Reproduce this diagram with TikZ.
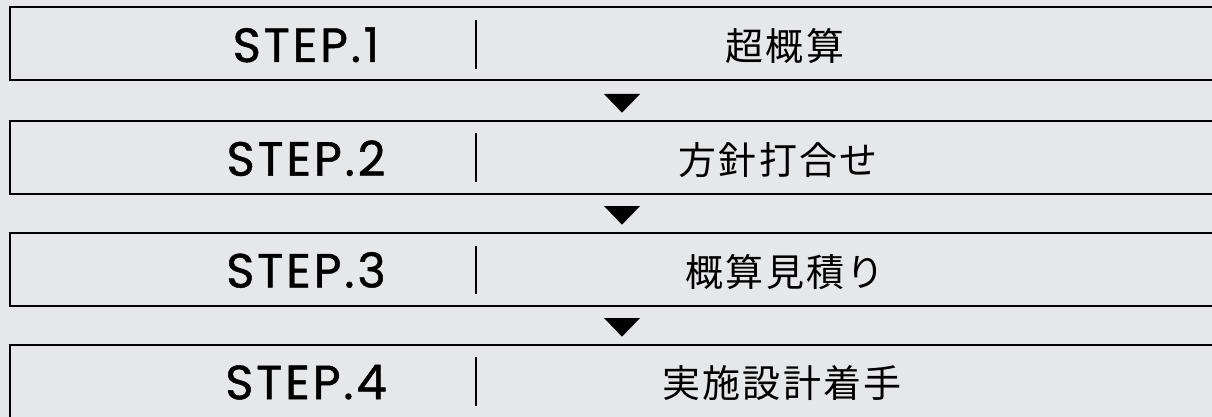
\documentclass[tikz,border=0pt]{standalone}
\usepackage{fontspec}
\newfontfamily\stepfont{Poppins}[LetterSpace=6,FakeBold=1]
\newfontfamily\jpfont{Noto Sans CJK JP}[LetterSpace=6]
\definecolor{bg}{HTML}{E6E7E8}
\begin{document}
\begin{tikzpicture}[x=1pt,y=-1pt,
  stepbox/.style={draw=black, line width=2pt, fill=bg, minimum width=1240pt,
    minimum height=73.5pt, anchor=north west, inner sep=0pt, outer sep=0pt},
  steplbl/.style={anchor=base, inner sep=0pt, font=\stepfont\fontsize{48}{48}\selectfont},
  jplbl/.style={anchor=base, inner sep=0pt, font=\jpfont\fontsize{38}{38}\selectfont},
  divider/.style={draw=black, line width=1.6pt},
  tri/.style={fill=black}]
\fill[bg] (0,0) rectangle (1212,417);
\useasboundingbox (0,0) rectangle (1212,417);
\clip (0,0) rectangle (1212,417);
% boxes
\node[stepbox] (b1) at (10,7) {};
\node[stepbox] (b2) at (10,120.7) {};
\node[stepbox] (b3) at (10,232.8) {};
\node[stepbox] (b4) at (10,344.5) {};
% labels
\node[steplbl] (s1) at (306,62) {STEP.\kern3pt1};
\node[steplbl] (s2) at (306,175.7) {STEP.\kern3pt2};
\node[steplbl] (s3) at (306,287.5) {STEP.\kern3pt3};
\node[steplbl] (s4) at (306,399.2) {STEP.\kern3pt4};
\node[jplbl] (j1) at (785,60.5) {超概算};
\node[jplbl] (j2) at (778,174.2) {方針打合せ};
\node[jplbl] (j3) at (785,286) {概算見積り};
\node[jplbl] (j4) at (782,397.7) {実施設計着手};
% dividers
\coordinate (d1a) at (476,20); \coordinate (d1b) at (476,69);
\coordinate (d2a) at (476,133.5); \coordinate (d2b) at (476,182);
\coordinate (d3a) at (476,245.5); \coordinate (d3b) at (476,294);
\coordinate (d4a) at (476,357); \coordinate (d4b) at (476,406);
\draw[divider] (d1a) -- (d1b);
\draw[divider] (d2a) -- (d2b);
\draw[divider] (d3a) -- (d3b);
\draw[divider] (d4a) -- (d4b);
% triangles
\fill[tri] (604,94) -- (640,94) -- (622,112.7) -- cycle;
\fill[tri] (604,206) -- (640,206) -- (622,224.7) -- cycle;
\fill[tri] (604,318) -- (640,318) -- (622,336.7) -- cycle;
\end{tikzpicture}
\end{document}
